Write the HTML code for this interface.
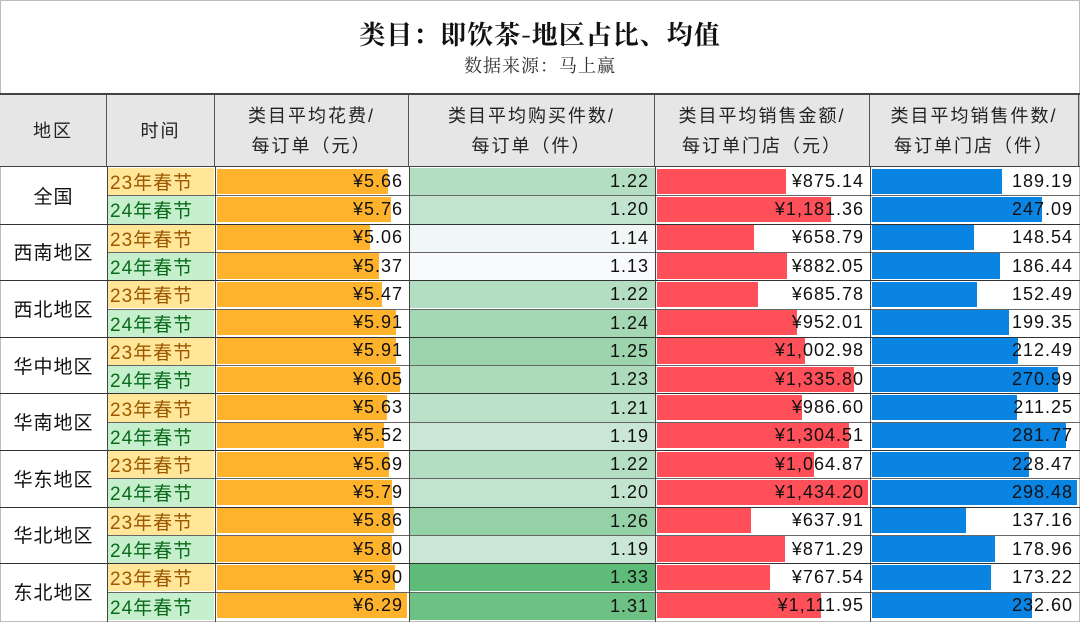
<!DOCTYPE html>
<html><head><meta charset="utf-8">
<style>
body{margin:0;width:1080px;height:622px;overflow:hidden;background:#fff;font-family:"Liberation Sans","Noto Sans CJK SC",sans-serif;position:relative}
.abs{position:absolute;box-sizing:border-box}
#title{left:0;top:16px;width:1080px;text-align:center;font-size:26px;line-height:36px;font-weight:bold;font-family:"Noto Serif CJK SC",serif;color:#111;letter-spacing:1px}
#sub{left:0;top:53px;width:1080px;text-align:center;font-size:18px;line-height:24px;color:#333;font-family:"Noto Serif CJK SC",serif;letter-spacing:1px}
.hd{background:#e6e6e6;border-right:1px solid #555;display:flex;align-items:center;justify-content:center;text-align:center;font-size:18px;line-height:30px;color:#222;letter-spacing:2px}
.cell{font-size:18px;color:#111;display:flex;align-items:center;justify-content:flex-end;padding-right:6px;letter-spacing:1px}
.line{background:#444}
</style></head><body>
<div id="frame" class="abs" style="left:0;top:0;width:1080px;height:622px;border:1px solid #bbb"></div>
<div id="title" class="abs">类目：即饮茶-地区占比、均值</div>
<div id="sub" class="abs">数据来源：马上赢</div>
<div id="tbl"></div>
<script>
const regions=["全国","西南地区","西北地区","华中地区","华南地区","华东地区","华北地区","东北地区"];
const periods=["23年春节","24年春节"];
const spend=[5.66,5.76,5.06,5.37,5.47,5.91,5.91,6.05,5.63,5.52,5.69,5.79,5.86,5.80,5.90,6.29];
const qty=[1.22,1.20,1.14,1.13,1.22,1.24,1.25,1.23,1.21,1.19,1.22,1.20,1.26,1.19,1.33,1.31];
const storeAmt=[875.14,1181.36,658.79,882.05,685.78,952.01,1002.98,1335.80,986.60,1304.51,1064.87,1434.20,637.91,871.29,767.54,1111.95];
const storeQty=[189.19,247.09,148.54,186.44,152.49,199.35,212.49,270.99,211.25,281.77,228.47,298.48,137.16,178.96,173.22,232.60];
const headers=["地区","时间","类目平均花费/<br>每订单（元）","类目平均购买件数/<br>每订单（件）","类目平均销售金额/<br>每订单门店（元）","类目平均销售件数/<br>每订单门店（件）"];
const cols=[0,107,215,409,655,870,1079];
const top0=94,hdH=72,rowTop=167,rowH=28.3;
const T=document.getElementById('tbl');
function mk(cls,css,html){const d=document.createElement('div');d.className='abs '+cls;Object.assign(d.style,css);if(html!==undefined)d.innerHTML=html;T.appendChild(d);return d;}
mk('line',{left:'0px',top:(top0-1)+'px',width:'1080px',height:'2px'});
headers.forEach((h,i)=>{const d=mk('hd',{left:cols[i]+'px',top:top0+1+'px',width:(cols[i+1]-cols[i])+'px',height:(hdH-1)+'px'},h);

});
mk('line',{left:'0px',top:(top0+hdH)+'px',width:'1080px',height:'1px'});
const fmt=(v,d)=>v.toLocaleString('en-US',{minimumFractionDigits:d,maximumFractionDigits:d});
const mx=a=>Math.max(...a);
const qMin=Math.min(...qty),qMax=mx(qty);
function green(v){const t=(v-qMin)/(qMax-qMin);const a=[248,250,253],b=[95,187,120];return 'rgb('+a.map((x,i)=>Math.round(x+(b[i]-x)*t)).join(',')+')';}
function bar(ci,r,v,max,color,label){
 const y=rowTop+r*rowH,x=cols[ci],w=cols[ci+1]-cols[ci];
 const b=mk('',{left:(x+2)+'px',top:(y+1.5)+'px',width:((w-4)*v/max)+'px',height:(rowH-3)+'px',background:color});
 
 
 const c=mk('cell',{left:x+'px',top:y+'px',width:w+'px',height:rowH+'px'},label);
 
 
}
regions.forEach((rg,k)=>{
 const y=rowTop+k*2*rowH;
 const d=mk('cell',{left:'0px',top:y+'px',width:'107px',height:(2*rowH)+'px',justifyContent:'center',paddingRight:'0',fontSize:'19px'},rg);
 
 
});
for(let r=0;r<16;r++){
 const y=rowTop+r*rowH,p=r%2;
 const t=mk('cell',{left:'108px',top:(y+1)+'px',width:'106px',height:(rowH-1)+'px',justifyContent:'flex-start',paddingLeft:'2px',fontSize:'19px',background:p?'#c6efce':'#ffe699',color:p?'#0b6b1a':'#9c5700'},periods[p]);
 
 
 bar(2,r,spend[r],mx(spend),'#ffb22b','¥'+fmt(spend[r],2));
 const g=mk('cell',{left:'410px',top:(y+1)+'px',width:'245px',height:(rowH-1)+'px',background:green(qty[r])},fmt(qty[r],2));
 
 
 bar(4,r,storeAmt[r],mx(storeAmt),'#ff4f59','¥'+fmt(storeAmt[r],2));
 bar(5,r,storeQty[r],mx(storeQty),'#0a84e3',fmt(storeQty[r],2));
 if(r<15) mk('line',{left:(p?0:107)+'px',top:(y+rowH)+'px',width:(p?1080:973)+'px',height:'1px',background:p?'#333':'#666'});
}
cols.slice(1,6).forEach(x=>mk('line',{left:x+'px',top:(top0+hdH)+'px',width:'1px',height:(622-top0-hdH)+'px'}));
</script>
</body></html>
